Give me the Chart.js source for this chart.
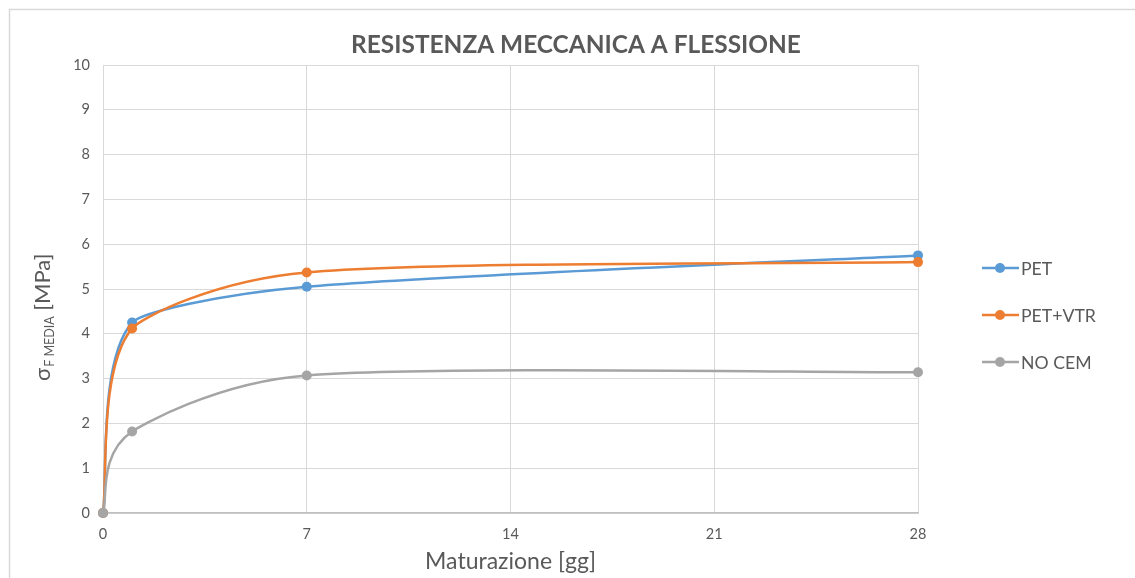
<!DOCTYPE html>
<html>
<head>
<meta charset="utf-8">
<script src="https://cdn.jsdelivr.net/npm/chart.js@4.4.1/dist/chart.umd.min.js"></script>
<style>
  html, body { margin: 0; padding: 0; background: #ffffff; overflow: hidden; }
  #wrap { width: 1135px; height: 578px; position: relative; }
</style>
</head>
<body>
<div id="wrap"><canvas id="c" width="1135" height="578"></canvas></div>
<script>
// Flexural strength vs curing time
const chartTitle = 'RESISTENZA MECCANICA A FLESSIONE';
const xAxisTitle = 'Maturazione [gg]';
const yAxisSymbol = 'σ';
const yAxisSub = 'F MEDIA';
const yAxisUnit = ' [MPa]';

const days = [0, 1, 7, 28];
const xTickValues = [0, 7, 14, 21, 28];

const seriesNames = ['PET', 'PET+VTR', 'NO CEM'];
const seriesColors = ['#5B9BD5', '#ED7D31', '#A5A5A5'];
const pet    = [0, 4.25, 5.05, 5.75];
const petVtr = [0, 4.12, 5.37, 5.60];
const noCem  = [0, 1.82, 3.07, 3.14];

const FONT = 'Lato, "Open Sans", sans-serif';
const TEXT = '#595959';

// font size that makes a string span a given width
function fitSize(text, weight, width) {
  const ctx = document.createElement('canvas').getContext('2d');
  ctx.font = weight + ' 100px ' + FONT;
  return 100 * width / ctx.measureText(text).width;
}

const titleSize = fitSize(chartTitle, 'bold', 450);
const xTitleSize = fitSize(xAxisTitle, 'normal', 171);
const legendSize = fitSize('PET+VTR', 'normal', 75);

function toPoints(values) {
  return days.map((d, i) => ({ x: d, y: values[i] }));
}

const allSeries = [pet, petVtr, noCem];
const datasets = allSeries.map((vals, i) => ({
  label: seriesNames[i],
  data: toPoints(vals),
  borderColor: seriesColors[i],
  backgroundColor: seriesColors[i],
  pointBackgroundColor: seriesColors[i],
  pointBorderColor: seriesColors[i],
  borderWidth: 2.5,
  pointRadius: 5,
  pointBorderWidth: 0,
  tension: 0.4,
  clip: false,
  order: allSeries.length - i
}));

// Spreadsheet-style smoothed line: per segment Bezier handles of (next - prev) / 6,
// shortened when they would reach past half of the segment.
function dist(a, b) { return Math.hypot(b.x - a.x, b.y - a.y); }

const smoothCurves = {
  id: 'smoothCurves',
  beforeDatasetDraw(chart, args) {
    const meta = args.meta;
    const pts = meta.data;
    const n = pts.length;
    for (let i = 0; i < n - 1; i++) {
      const p0 = pts[Math.max(i - 1, 0)];
      const p1 = pts[i];
      const p2 = pts[i + 1];
      const p3 = pts[Math.min(i + 2, n - 1)];
      const d02 = dist(p0, p2), d12 = dist(p1, p2), d13 = dist(p1, p3);
      let f1, f2;
      const big1 = d02 / 6 >= d12 / 2;
      const big2 = d13 / 6 >= d12 / 2;
      if (!big1 && !big2) {
        f1 = 1 / 6; f2 = 1 / 6;
      } else if (big1 && big2) {
        f1 = d12 / 2 / d02; f2 = d12 / 2 / d13;
      } else if (big1) {
        f1 = d12 / 2 / d02; f2 = d12 / 2 / d13 * (d13 / d02);
      } else {
        f1 = d12 / 2 / d13 * (d02 / d13); f2 = d12 / 2 / d13;
      }
      p1.cp2x = p1.x + (p2.x - p0.x) * f1;
      p1.cp2y = p1.y + (p2.y - p0.y) * f1;
      p2.cp1x = p2.x - (p3.x - p1.x) * f2;
      p2.cp1y = p2.y - (p3.y - p1.y) * f2;
    }
    pts[0].cp1x = pts[0].x; pts[0].cp1y = pts[0].y;
    pts[n - 1].cp2x = pts[n - 1].x; pts[n - 1].cp2y = pts[n - 1].y;
    if (meta.dataset) meta.dataset._pointsUpdated = true;
  }
};

// outer frame, chart title, y title with subscript, x title, legend
const decorations = {
  id: 'decorations',
  beforeDraw(chart) {
    const ctx = chart.ctx;
    ctx.save();
    ctx.strokeStyle = '#d9d9d9';
    ctx.lineWidth = 1.5;
    ctx.beginPath();
    ctx.moveTo(9.5, 1200);
    ctx.lineTo(9.5, 9.5);
    ctx.lineTo(1200, 9.5);
    ctx.stroke();
    ctx.restore();
  },
  afterDraw(chart) {
    const ctx = chart.ctx;
    const area = chart.chartArea;
    ctx.save();
    ctx.fillStyle = TEXT;

    // title
    ctx.font = 'bold ' + titleSize + 'px ' + FONT;
    ctx.textAlign = 'center';
    ctx.textBaseline = 'alphabetic';
    ctx.fillText(chartTitle, 576, 53);

    // x axis title
    ctx.font = xTitleSize + 'px ' + FONT;
    ctx.fillText(xAxisTitle, (area.left + area.right) / 2, 569);

    // y axis title, rotated, with subscript
    const mainSize = 22;
    const subSize = 12.5;
    ctx.save();
    ctx.translate(50, 381);
    ctx.rotate(-Math.PI / 2);
    ctx.textAlign = 'left';
    ctx.font = mainSize + 'px ' + FONT;
    let pos = 0;
    ctx.fillText(yAxisSymbol, pos, 0);
    pos += ctx.measureText(yAxisSymbol).width + 1;
    ctx.font = subSize + 'px ' + FONT;
    ctx.fillText(yAxisSub, pos, 3.5);
    pos += ctx.measureText(yAxisSub).width;
    ctx.font = mainSize + 'px ' + FONT;
    ctx.fillText(yAxisUnit, pos, 0);
    ctx.restore();

    // legend
    const legendY = [268, 315, 362];
    ctx.textAlign = 'left';
    ctx.textBaseline = 'middle';
    ctx.font = legendSize + 'px ' + FONT;
    chart.data.datasets.forEach((ds, i) => {
      const y = legendY[i];
      ctx.strokeStyle = ds.borderColor;
      ctx.lineWidth = 2.5;
      ctx.beginPath();
      ctx.moveTo(982, y);
      ctx.lineTo(1019, y);
      ctx.stroke();
      ctx.fillStyle = ds.borderColor;
      ctx.beginPath();
      ctx.arc(1000, y, 5, 0, Math.PI * 2);
      ctx.fill();
      ctx.fillStyle = TEXT;
      ctx.fillText(ds.label, 1021, y + 1);
    });
    ctx.restore();
  }
};

Chart.defaults.font.family = FONT;
Chart.defaults.color = TEXT;

new Chart(document.getElementById('c'), {
  type: 'line',
  data: { datasets },
  options: {
    responsive: false,
    animation: false,
    devicePixelRatio: 1,
    layout: { padding: { top: 65, right: 217, left: 0, bottom: 0 } },
    plugins: {
      legend: { display: false },
      title: { display: false },
      tooltip: { enabled: false }
    },
    scales: {
      x: {
        type: 'linear',
        min: 0,
        max: 28,
        afterBuildTicks: (scale) => { scale.ticks = xTickValues.map(v => ({ value: v })); },
        afterFit: (scale) => { scale.height = 65; },
        ticks: { font: { size: 14.5 }, color: TEXT, padding: 13, maxRotation: 0 },
        grid: { color: '#d9d9d9', lineWidth: 1, drawTicks: false },
        border: { color: '#bfbfbf', width: 1.5 }
      },
      y: {
        min: 0,
        max: 10,
        ticks: { stepSize: 1, font: { size: 14.5 }, color: TEXT, padding: 13 },
        afterFit: (scale) => { scale.width = 103; },
        grid: { color: '#d9d9d9', lineWidth: 1, drawTicks: false },
        border: { color: '#d9d9d9', width: 1 }
      }
    }
  },
  plugins: [smoothCurves, decorations]
});
</script>
</body>
</html>
